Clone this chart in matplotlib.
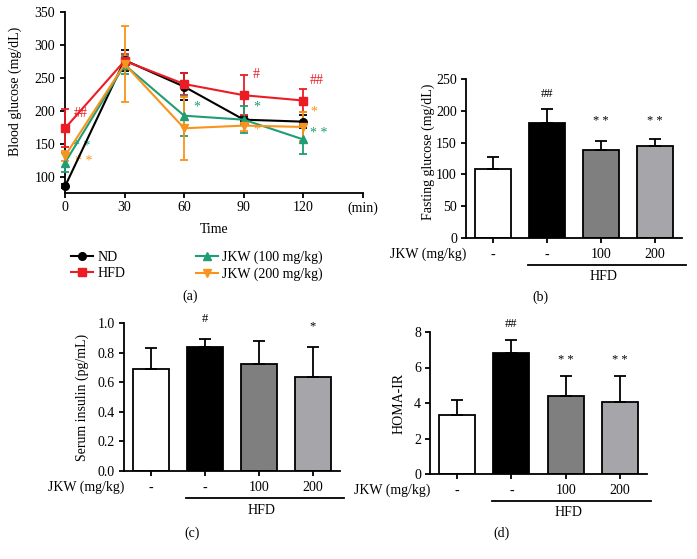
import matplotlib
matplotlib.use("Agg")
import matplotlib.pyplot as plt
import matplotlib.transforms as mtransforms
from matplotlib.lines import Line2D
import numpy as np

plt.rcParams.update({
    "font.family": "Liberation Serif",
    "font.size": 10,
    "axes.linewidth": 1.3,
    "xtick.major.width": 1.3,
    "ytick.major.width": 1.3,
    "xtick.major.size": 3.5,
    "ytick.major.size": 3.5,
})

# ---- (a) glucose tolerance test ----
TIME = [0, 30, 60, 90, 120]
ND_MEAN = [86, 277, 237, 187, 184]
ND_ERR = [3, 16, 20, 6, 10]
HFD_MEAN = [174, 276, 241, 224, 216]
HFD_ERR = [29, 11, 17, 30, 18]
JKW100_MEAN = [122, 270, 193, 187, 157]
JKW100_ERR = [14, 14, 30, 20, 22]
JKW200_MEAN = [132, 271, 174, 178, 176]
JKW200_ERR = [8, 58, 48, 8, 22]
SERIES_NAMES = ["ND", "HFD", "JKW (100 mg/kg)", "JKW (200 mg/kg)"]

# ---- bar panels ----
GROUP_LABELS = ["-", "-", "100", "200"]
FG_MEAN = [109, 181, 139, 145]
FG_ERR = [19, 22, 13, 10]
INS_MEAN = [0.69, 0.84, 0.72, 0.635]
INS_ERR = [0.14, 0.05, 0.16, 0.205]
HOMA_MEAN = [3.35, 6.84, 4.38, 4.08]
HOMA_ERR = [0.81, 0.71, 1.14, 1.44]

RED = "#ec1c24"
GREEN = "#1f9d74"
ORANGE = "#f7941d"
BAR_COLORS = ["white", "black", "#7f7f7f", "#a6a6aa"]

W, H = 697, 559
fig = plt.figure(figsize=(W / 100, H / 100), dpi=100)


def px_axes(x0, y0, x1, y1):
    # pixel box (left, top, right, bottom) -> figure fraction axes
    return fig.add_axes([x0 / W, 1 - y1 / H, (x1 - x0) / W, (y1 - y0) / H])


# ================= (a) =================
ax = px_axes(65, 12, 363, 193)
styles = [
    (ND_MEAN, ND_ERR, "black", "o"),
    (HFD_MEAN, HFD_ERR, RED, "s"),
    (JKW100_MEAN, JKW100_ERR, GREEN, "^"),
    (JKW200_MEAN, JKW200_ERR, ORANGE, "v"),
]
handles = []
for (m, e, c, mk), name in zip(styles, SERIES_NAMES):
    ax.errorbar(TIME, m, yerr=e, color=c, marker=mk, markersize=5.5, lw=1.5,
                elinewidth=1.3, capsize=3, capthick=1.3, clip_on=False, zorder=3)
    handles.append(Line2D([], [], color=c, marker=mk, markersize=5.5, lw=1.5, label=name))

ax.set_xlim(0, 150)
ax.set_ylim(76, 350)
ax.set_xticks([0, 30, 60, 90, 120, 150])
ax.set_xticklabels(["0", "30", "60", "90", "120", "(min)"])
ax.set_yticks([100, 150, 200, 250, 300, 350])
ax.spines["top"].set_visible(False)
ax.spines["right"].set_visible(False)
ax.tick_params(axis="x", pad=2.5)
ax.tick_params(axis="y", pad=3.5)
ax.set_xlabel("Time", labelpad=6)
ax.set_ylabel("Blood glucose (mg/dL)")
ax.yaxis.set_label_coords(-0.145, 0.56)

marks_a = [
    (8, 196, "##", RED), (8.5, 147, "* *", GREEN), (9.5, 123, "* *", ORANGE),
    (66.5, 206, "*", GREEN), (96.5, 255, "#", RED), (96.5, 206, "*", GREEN),
    (96.5, 172, "*", ORANGE), (126.5, 246, "##", RED), (125, 199, "*", ORANGE),
    (127.5, 166, "* *", GREEN),
]
for x, y, s, c in marks_a:
    ax.text(x, y, s, color=c, ha="center", va="center", fontsize=10)

fig.legend(handles=handles, loc="upper left", bbox_to_anchor=(64 / W, 1 - 244 / H),
           ncol=2, frameon=False, handlelength=1.6, handletextpad=0.3,
           columnspacing=5.1, labelspacing=0.2, borderpad=0, fontsize=10)


# ================= bar panels =================
def bar_panel(box, means, errs, ylim, yticks, yticklabels, ylabel, label_xy,
              marks):
    ax = px_axes(*box)
    x = np.arange(len(means))
    ax.bar(x, means, width=0.66, color=BAR_COLORS, edgecolor="black",
           linewidth=1.3, zorder=2)
    ax.errorbar(x, means, yerr=[np.zeros(len(errs)), errs], fmt="none",
                ecolor="black", elinewidth=1.3, capsize=4.5, capthick=1.3, zorder=3)
    ax.set_xlim(-0.5, 3.5)
    ax.set_ylim(*ylim)
    ax.set_yticks(yticks)
    ax.set_yticklabels(yticklabels)
    ax.set_xticks(x)
    ax.set_xticklabels(GROUP_LABELS)
    ax.tick_params(axis="x", pad=4)
    ax.tick_params(axis="y", pad=3)
    ax.spines["top"].set_visible(False)
    ax.spines["right"].set_visible(False)
    ax.set_ylabel(ylabel)
    ax.yaxis.set_label_coords(*label_xy)
    for i, (y, s) in marks.items():
        ax.text(i, y, s, ha="center", va="center", fontsize=9)

    # "JKW (mg/kg)" row label and HFD bracket under the axis
    ax.annotate("JKW (mg/kg)", xy=(0, 0), xycoords="axes fraction",
                xytext=(0, -16), textcoords="offset pixels",
                ha="right", va="center", fontsize=10)
    tr = mtransforms.offset_copy(ax.get_xaxis_transform(), fig=fig, y=-27, units="dots")
    ax.plot([0.64, 3.57], [0, 0], color="black", lw=1.3, transform=tr, clip_on=False)
    ax.annotate("HFD", xy=(2.05, 0), xycoords=("data", "axes fraction"),
                xytext=(0, -39), textcoords="offset pixels",
                ha="center", va="center", fontsize=10)
    return ax


bar_panel((466, 79, 682, 238), FG_MEAN, FG_ERR, (0, 250), [0, 50, 100, 150, 200, 250],
          ["0", "50", "100", "150", "200", "250"], "Fasting glucose (mg/dL)",
          (-0.144, 0.545), {1: (227, "##"), 2: (184, "* *"), 3: (184, "* *")})

bar_panel((124, 323, 340, 471), INS_MEAN, INS_ERR, (0, 1.0),
          [0, 0.2, 0.4, 0.6, 0.8, 1.0], ["0.0", "0.2", "0.4", "0.6", "0.8", "1.0"],
          "Serum insulin (pg/mL)", (-0.162, 0.5), {1: (1.03, "#"), 3: (0.98, "*")})

bar_panel((430, 332, 647, 474), HOMA_MEAN, HOMA_ERR, (0, 8), [0, 2, 4, 6, 8],
          ["0", "2", "4", "6", "8"], "HOMA-IR", (-0.115, 0.5),
          {1: (8.45, "##"), 2: (6.4, "* *"), 3: (6.4, "* *")})

# panel letters
for s, x, y in [("(a)", 190, 296), ("(b)", 540, 297), ("(c)", 192, 533), ("(d)", 502, 533)]:
    fig.text(x / W, 1 - y / H, s, ha="center", va="center", fontsize=10)

fig.savefig("out.png", dpi=100)
